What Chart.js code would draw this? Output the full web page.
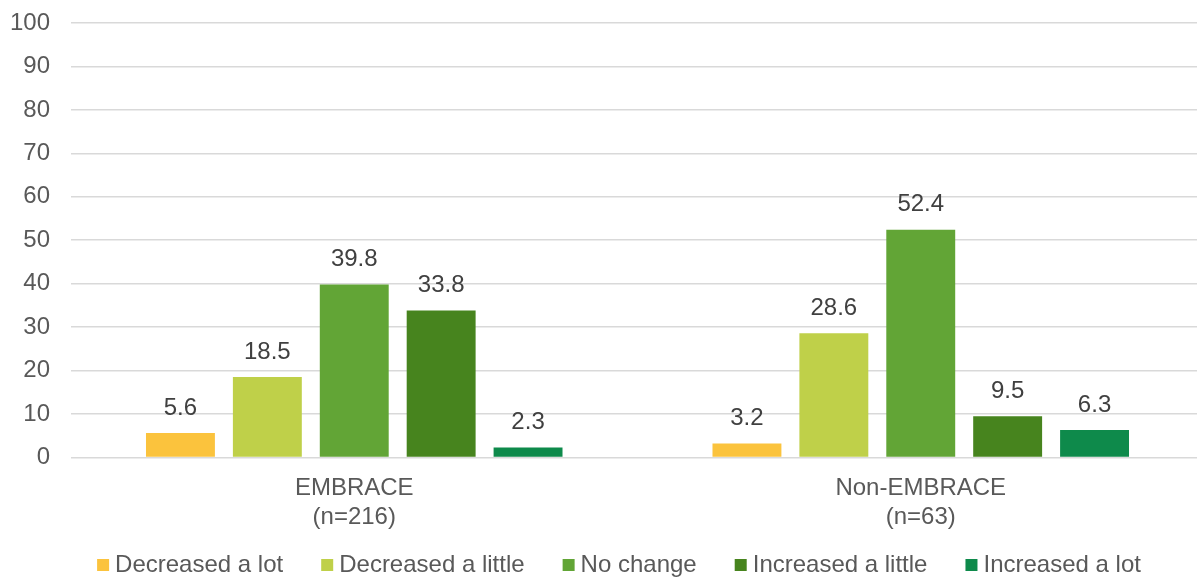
<!DOCTYPE html>
<html>
<head>
<meta charset="utf-8">
<script src="https://cdn.jsdelivr.net/npm/chart.js@4/dist/chart.umd.min.js"></script>
<style>
  html, body { margin: 0; padding: 0; background: #fff; overflow: hidden; }
  #wrap { width: 1206px; height: 579px; }
</style>
</head>
<body>
<div id="wrap"><canvas id="chart"></canvas></div>
<script>
const groups = [["EMBRACE", "(n=216)"], ["Non-EMBRACE", "(n=63)"]];
const decreasedLot = [5.6, 3.2];
const decreasedLittle = [18.5, 28.6];
const noChange = [39.8, 52.4];
const increasedLittle = [33.8, 9.5];
const increasedLot = [2.3, 6.3];
const yTicks = [0, 10, 20, 30, 40, 50, 60, 70, 80, 90, 100];

const FONT = "'Liberation Sans', Arial, sans-serif";
const SIZE = 24;
Chart.defaults.font.family = FONT;
Chart.defaults.font.size = SIZE;
Chart.defaults.color = "#595959";

// value labels above each bar
const barLabels = {
  id: "barLabels",
  afterDatasetsDraw(chart) {
    const ctx = chart.ctx;
    ctx.save();
    ctx.font = SIZE + "px " + FONT;
    ctx.fillStyle = "#404040";
    ctx.textAlign = "center";
    ctx.textBaseline = "middle";
    chart.data.datasets.forEach((ds, i) => {
      chart.getDatasetMeta(i).data.forEach((bar, j) => {
        ctx.fillText(ds.data[j].toFixed(1), bar.x, bar.y - 25);
      });
    });
    ctx.restore();
  }
};

// square-marker legend along the bottom
const bottomLegend = {
  id: "bottomLegend",
  afterDraw(chart) {
    const ctx = chart.ctx;
    const box = 12, gapText = 6, gapItem = 38;
    ctx.save();
    ctx.font = SIZE + "px " + FONT;
    ctx.textBaseline = "middle";
    ctx.textAlign = "left";
    const items = chart.data.datasets.map(ds => ({
      label: ds.label, color: ds.backgroundColor, w: box + gapText + ctx.measureText(ds.label).width
    }));
    const total = items.reduce((s, it) => s + it.w, 0) + gapItem * (items.length - 1);
    let x = 619 - total / 2;
    const y = 565;
    items.forEach(it => {
      ctx.fillStyle = it.color;
      ctx.fillRect(x, y - box / 2, box, box);
      ctx.fillStyle = "#595959";
      ctx.fillText(it.label, x + box + gapText, y);
      x += it.w + gapItem;
    });
    ctx.restore();
  }
};

new Chart(document.getElementById("chart"), {
  type: "bar",
  data: {
    labels: groups,
    datasets: [
      { label: "Decreased a lot", data: decreasedLot, backgroundColor: "#FBC33D" },
      { label: "Decreased a little", data: decreasedLittle, backgroundColor: "#BFD049" },
      { label: "No change", data: noChange, backgroundColor: "#62A536" },
      { label: "Increased a little", data: increasedLittle, backgroundColor: "#47841E" },
      { label: "Increased a lot", data: increasedLot, backgroundColor: "#0E8A4B" }
    ]
  },
  options: {
    responsive: true,
    maintainAspectRatio: false,
    animation: false,
    categoryPercentage: 0.767,
    barPercentage: 0.793,
    layout: { padding: { top: 23, right: 2, left: 0, bottom: 38 } },
    plugins: {
      legend: { display: false },
      tooltip: { enabled: false }
    },
    scales: {
      x: {
        grid: { display: false },
        border: { display: false },
        ticks: { padding: 9, color: "#595959" }
      },
      y: {
        min: 0,
        max: 100,
        afterBuildTicks(scale) { scale.ticks = yTicks.map(v => ({ value: v })); },
        afterFit(scale) { scale.width = 71; },
        // invisible tick marks keep the labels clear of the plot
        grid: { color: "#d9d9d9", lineWidth: 1.5, drawTicks: true, tickLength: 21, tickColor: "rgba(0,0,0,0)" },
        border: { display: false },
        ticks: { padding: 0, color: "#595959" }
      }
    }
  },
  plugins: [barLabels, bottomLegend]
});
</script>
</body>
</html>
